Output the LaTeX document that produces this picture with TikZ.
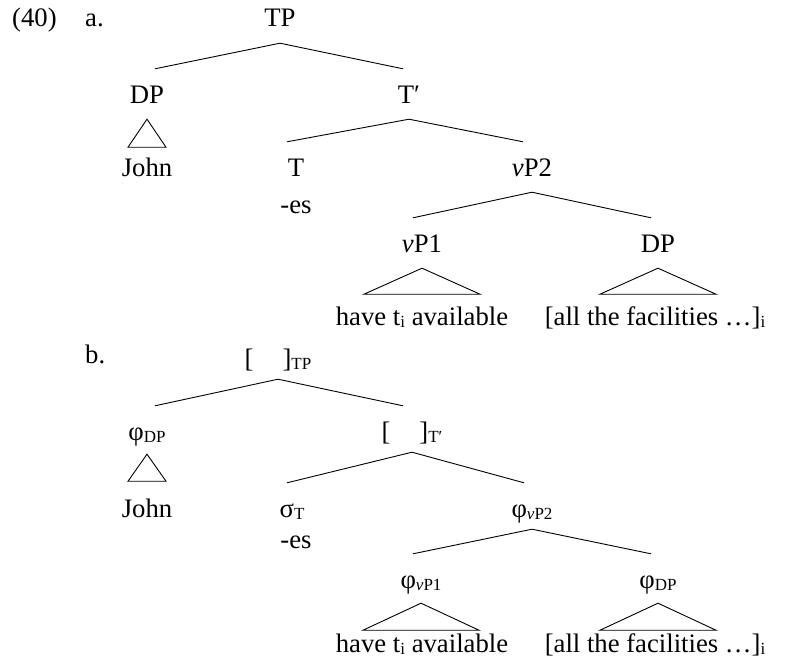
\documentclass[tikz,border=0pt]{standalone}
\usepackage{fontspec}
\setmainfont{Liberation Serif}
\usetikzlibrary{positioning}

% small lowered index for labels
\newcommand\sbs[1]{\raisebox{-2pt}{\fontsize{17}{17}\selectfont #1}}

\begin{document}
\begin{tikzpicture}[x=1pt, y=-1pt,
  every node/.style={font=\fontsize{26.7}{32}\selectfont, anchor=base, inner sep=0pt},
  lbl/.style={text height=18pt, text depth=0pt, inner ysep=16pt},
  plbl/.style={text height=22pt, text depth=0pt, inner ysep=12pt},
  branch/.style={line width=0.9pt},
]
  \useasboundingbox (0,0) rectangle (795,669);

  % Example number
  \node[anchor=base west] (num) at (12,27) {(40)};
  \node[anchor=base west] (exa) at (85,27) {a.};

  % (a) syntactic tree
  \node[lbl] (TP)   at (280,27)  {TP};
  \node[lbl] (DP)   at (147,103) {DP};
  \node[lbl] (Tbar) at (409,103) {T′};
  \node      (john) at (147,176) {John};
  \node[lbl] (T)    at (296,176) {T};
  \node      (es)   at (296,213) {-es};
  \node[lbl] (vPb)  at (532,176) {\textit{v}P2};
  \node[lbl] (vPa)  at (422,252) {\textit{v}P1};
  \node[lbl] (DPb)  at (658,252) {DP};
  \node      (have) at (422,325) {have t\sbs{i} available};
  \node      (fac)  at (655,325) {[all the facilities …]\sbs{i}};

  \draw[branch] (TP.south) -- ([xshift=8pt]DP.north);
  \draw[branch] (TP.south) -- ([xshift=-6pt]Tbar.north);
  \draw[branch] (Tbar.south) -- ([xshift=-9pt]T.north);
  \draw[branch] (Tbar.south) -- ([xshift=-9pt]vPb.north);
  \draw[branch] (vPb.south) -- ([xshift=-9pt]vPa.north);
  \draw[branch] (vPb.south) -- ([xshift=-7pt]DPb.north);

  % roofs
  \draw[branch] (DP.south)  -- ++(-19,28) -- ++(38,0) -- cycle;
  \draw[branch] (vPa.south) -- ++(-58,26) -- ++(116,0) -- cycle;
  \draw[branch] (DPb.south) -- ++(-58,26) -- ++(116,0) -- cycle;

  % (b) prosodic tree
  \node[anchor=base west] (exb) at (85,363) {b.};

  \node[plbl] (pTP)   at (278,367) {[\hspace{29pt}]\sbs{TP}};
  \node[plbl] (pDP)   at (147,440) {φ\sbs{DP}};
  \node[plbl] (pTbar) at (412,440) {[\hspace{29pt}]\sbs{T′}};
  \node       (pjohn) at (147,517) {John};
  \node[plbl] (pT)    at (292,517) {σ\sbs{T}};
  \node       (pes)   at (296,548) {-es};
  \node[plbl] (pvPb)  at (532,517) {φ\sbs{\textit{v}P2}};
  \node[plbl] (pvPa)  at (421,588) {φ\sbs{\textit{v}P1}};
  \node[plbl] (pDPb)  at (658,588) {φ\sbs{DP}};
  \node       (phave) at (422,652) {have t\sbs{i} available};
  \node       (pfac)  at (655,652) {[all the facilities …]\sbs{i}};

  \draw[branch] (pTP.south) -- ([xshift=8pt]pDP.north);
  \draw[branch] (pTP.south) -- ([xshift=-9pt]pTbar.north);
  \draw[branch] (pTbar.south) -- ([xshift=-5pt]pT.north);
  \draw[branch] (pTbar.south) -- ([xshift=-8pt]pvPb.north);
  \draw[branch] (pvPb.south) -- ([xshift=-8pt]pvPa.north);
  \draw[branch] (pvPb.south) -- ([xshift=-7pt]pDPb.north);

  % roofs
  \draw[branch] ([yshift=-2pt]pDP.south)  -- ++(-19,27) -- ++(38,0) -- cycle;
  \draw[branch] ([yshift=-3pt]pvPa.south) -- ++(-58,27) -- ++(116,0) -- cycle;
  \draw[branch] ([yshift=-3pt]pDPb.south) -- ++(-58,27) -- ++(116,0) -- cycle;
\end{tikzpicture}
\end{document}
